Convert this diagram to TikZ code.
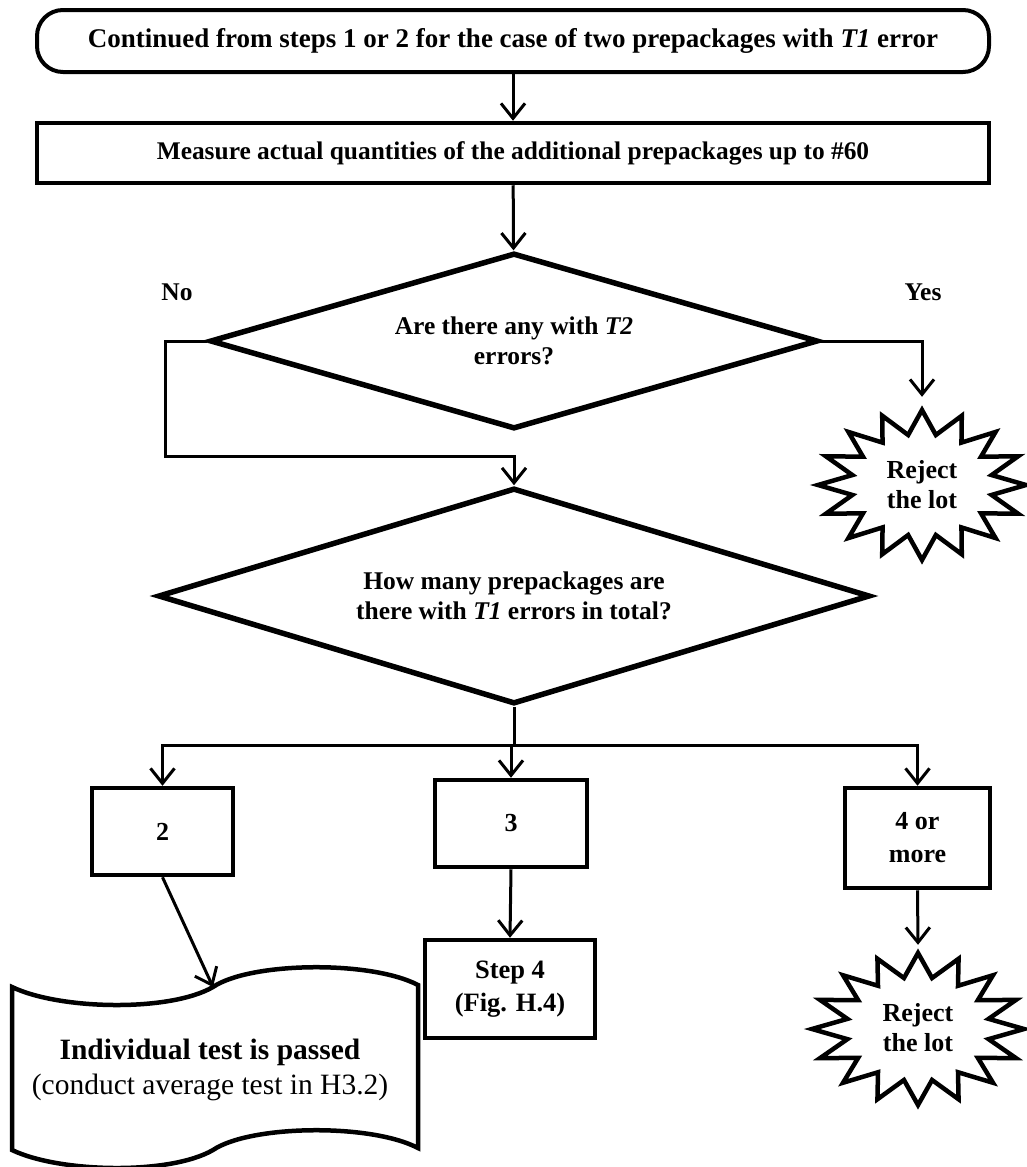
\documentclass[tikz,border=0pt]{standalone}
\usepackage{fontspec}
\setmainfont{Liberation Serif}
\usetikzlibrary{arrows.meta,shapes.geometric}
\begin{document}
\begin{tikzpicture}[x=1pt,y=-1pt,
  conn/.style={line width=3pt, line join=miter, -{Straight Barb[length=15pt,width=24pt,line width=3pt]}},
  plain/.style={line width=3pt},
  txt/.style={font=\bfseries\fontsize{25.5}{30}\selectfont, align=center, inner sep=0pt},
  boxs/.style={draw, line width=4.5pt, rectangle, inner sep=0pt, align=center, font=\bfseries\fontsize{26}{33}\selectfont},
  dia/.style={draw, line width=5.5pt, diamond, inner sep=0pt, align=center, aspect=3.4, font=\bfseries\fontsize{25.5}{30}\selectfont},
  burst/.style={line width=4.5pt, line join=miter, miter limit=6},
  blob/.style={inner sep=0pt, align=center, font=\bfseries\fontsize{26}{30}\selectfont},
]
\useasboundingbox (0,0) rectangle (1027,1167);

% terminal
\node[draw, line width=4pt, rectangle, rounded corners=26pt, minimum width=952pt, minimum height=62pt,
      inner sep=0pt, font=\bfseries\fontsize{27}{30}\selectfont] (term) at (513,41)
  {Continued from steps 1 or 2 for the case of two prepackages with \textit{T1} error};

% measure
\node[boxs, minimum width=952pt, minimum height=60pt, font=\bfseries\fontsize{25.4}{30}\selectfont] (meas) at (513,153)
  {Measure actual quantities of the additional prepackages up to \#60};

% decision 1
\node[dia, minimum width=608pt, minimum height=176pt] (d1) at (514,341)
  {Are there any with \textit{T2}\\errors?};
\node[txt] (no) at (177,292) {No};
\node[txt] (yes) at (923,292) {Yes};

% reject 1
\node[blob, minimum width=208pt, minimum height=176pt] (rej1) at (922,485) {Reject\\the lot};
\draw[burst, shift={(922,485)}] (0:104pt and 75pt)
  \foreach \i [evaluate=\i as \rx using {mod(\i,2)==0 ? 104 : 71},
               evaluate=\i as \ry using {mod(\i,2)==0 ? 75 : 51}] in {1,...,31}
  { -- ({\i*11.25}:\rx pt and \ry pt) } -- cycle;

% decision 2
\node[dia, minimum width=712pt, minimum height=216pt] (d2) at (514,596)
  {How many prepackages are\\there with \textit{T1} errors in total?};

% boxes
\node[boxs, minimum width=141pt, minimum height=87pt] (b2) at (162.5,831.5) {2};
\node[boxs, minimum width=152pt, minimum height=87pt] (b3) at (511,823.5) {3};
\node[boxs, minimum width=145pt, minimum height=100pt] (b4) at (917.5,838) {4 or\\more};
\node[boxs, minimum width=170pt, minimum height=98pt, font=\bfseries\fontsize{26.5}{33}\selectfont] (s4) at (510,989) {Step 4\\(Fig. H.4)};

% reject 2
\node[blob, minimum width=208pt, minimum height=166pt] (rej2) at (918,1028) {Reject\\the lot};
\draw[burst, shift={(918,1029)}] (0:106pt and 76pt)
  \foreach \i [evaluate=\i as \rx using {mod(\i,2)==0 ? 106 : 72},
               evaluate=\i as \ry using {mod(\i,2)==0 ? 76 : 52}] in {1,...,31}
  { -- ({\i*11.25}:\rx pt and \ry pt) } -- cycle;

% document (punched tape) shape
\coordinate (doctop) at (213,987);
\draw[line width=4.5pt, line join=miter]
  (12,987) .. controls (60,1010) and (170,1012) .. (doctop)
  .. controls (250,962) and (370,960) .. (418,985)
  -- (418,1148)
  .. controls (370,1123) and (250,1125) .. (213,1150)
  .. controls (170,1175) and (60,1173) .. (12,1150) -- cycle;
\node[align=center, inner sep=0pt, font=\fontsize{29.5}{35}\selectfont] (doc) at (210,1070)
  {\textbf{Individual test is passed}\\(conduct average test in H3.2)};

% connectors
\draw[conn] (term) -- (meas);
\draw[conn] (meas) -- (d1);

\coordinate (n2) at (165,456);
\draw[conn] (d1.west) -- (d1.west -| n2) -- (n2) -- (n2 -| d2.north) -- (d2.north);

\draw[conn] (d1.east) -- (d1.east -| rej1.north) -- (rej1.north);

\coordinate (h0) at (514,745);
\draw[conn] (d2.south) -- (h0) -- (h0 -| b3.north) -- (b3.north);
\draw[conn] (h0) -- (h0 -| b2.north) -- (b2.north);
\draw[conn] (h0) -- (h0 -| b4.north) -- (b4.north);

\draw[conn] (b2.south) -- (doctop);
\draw[conn] (b3.south) -- (s4.north);
\draw[conn] (b4.south) -- (rej2.north);
\end{tikzpicture}
\end{document}
